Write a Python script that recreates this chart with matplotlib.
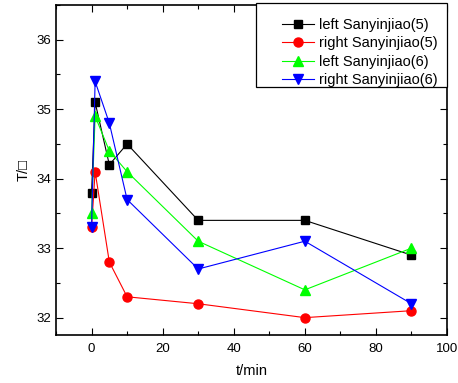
import matplotlib
matplotlib.use("Agg")
import matplotlib.pyplot as plt
from matplotlib.patches import Rectangle
from matplotlib.ticker import MultipleLocator

plt.rcParams['font.family'] = ['Liberation Sans', 'DejaVu Sans']

# time points (min)
t = [0, 1, 5, 10, 30, 60, 90]

left5 = [33.8, 35.1, 34.2, 34.5, 33.4, 33.4, 32.9]
right5 = [33.3, 34.1, 32.8, 32.3, 32.2, 32.0, 32.1]
left6 = [33.5, 34.9, 34.4, 34.1, 33.1, 32.4, 33.0]
right6 = [33.3, 35.4, 34.8, 33.7, 32.7, 33.1, 32.2]

labels = ['left Sanyinjiao(5)', 'right Sanyinjiao(5)',
          'left Sanyinjiao(6)', 'right Sanyinjiao(6)']

W, H = 458, 383
fig = plt.figure(figsize=(W / 100, H / 100), dpi=100)
ax = fig.add_axes([0.1223, 0.1253, 0.8537, 0.8617])

ax.plot(t, left5, color='black', marker='s', markersize=6, linewidth=0.8, label=labels[0])
ax.plot(t, right5, color='red', marker='o', markersize=6.5, linewidth=0.8, label=labels[1])
ax.plot(t, left6, color='#00ff00', marker='^', markersize=7, linewidth=0.8, label=labels[2])
ax.plot(t, right6, color='blue', marker='v', markersize=7, linewidth=0.8, label=labels[3])

ax.set_xlim(-10, 100)
ax.set_ylim(31.75, 36.5)
ax.xaxis.set_major_locator(MultipleLocator(20))
ax.xaxis.set_minor_locator(MultipleLocator(10))
ax.yaxis.set_major_locator(MultipleLocator(1))
ax.yaxis.set_minor_locator(MultipleLocator(0.5))
ax.tick_params(which='both', direction='in', top=True, right=True, labelsize=9.5)
ax.tick_params(axis='x', pad=6)
ax.tick_params(which='major', length=5, width=0.8)
ax.tick_params(which='minor', length=3, width=0.8)
for s in ax.spines.values():
    s.set_linewidth(1.2)

ax.set_xlabel('t/min', fontsize=10.5, labelpad=6)
ax.set_ylabel('T/\u25a1', fontsize=10.5)

# legend entries without frame, frame drawn separately (Origin style box)
leg = fig.legend(loc='upper left', bbox_to_anchor=(282 / W, 1 - 18 / H),
                 fontsize=10.5, frameon=False, borderaxespad=0, borderpad=0,
                 handlelength=2.2, handletextpad=0.35, labelspacing=0.3)
fig.patches.append(Rectangle((256 / W, 1 - 87 / H), (447 - 256) / W, 84 / H,
                             transform=fig.transFigure, fill=True,
                             facecolor='white', edgecolor='black',
                             linewidth=0.9, zorder=4))
leg.set_zorder(5)

fig.savefig('out.png', dpi=100)
